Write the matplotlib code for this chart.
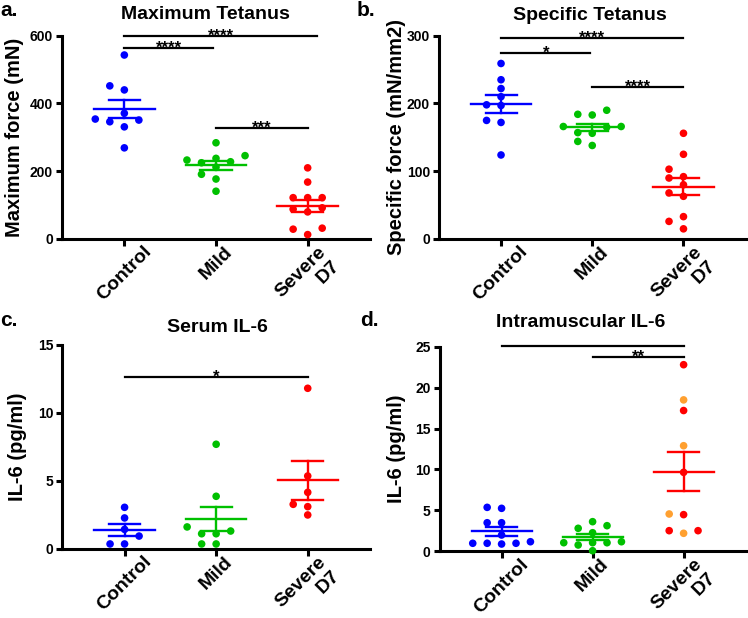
import numpy as np
import matplotlib
matplotlib.use('Agg')
import matplotlib.pyplot as plt

plt.rcParams['font.family'] = ['Liberation Sans', 'DejaVu Sans']
plt.rcParams['font.weight'] = 'bold'

groups = ['Control', 'Mild', 'Severe\nD7']

# a. maximum tetanus (mN)
a_control = [543, 440, 452, 354, 346, 371, 351, 331, 269]
a_mild = [284, 246, 238, 228, 225, 233, 212, 191, 177, 141]
a_severe = [210, 168, 122, 122, 122, 88, 80, 92, 32, 29, 13]

# b. specific tetanus (mN/mm2)
b_control = [259, 235, 222, 210, 198, 197, 175, 172, 124]
b_mild = [190, 183, 184, 166, 165, 157, 156, 138, 144, 166]
b_severe = [156, 125, 103, 90, 92, 80, 68, 63, 33, 26, 15]

# c. serum IL-6 (pg/ml)
c_control = [3.06, 2.28, 1.44, 0.95, 0.37, 0.37]
c_mild = [7.69, 3.87, 1.62, 1.12, 1.12, 1.32, 0.37, 0.37]
c_severe = [11.8, 5.36, 4.16, 3.28, 3.11, 2.50]

# d. intramuscular IL-6 (pg/ml)
d_control = [5.25, 5.37, 3.49, 3.49, 1.99, 0.98, 1.17, 0.98, 0.98, 0.89]
d_mild = [3.13, 3.62, 2.81, 2.27, 0.77, 1.05, 1.05, 1.05, 1.17, 0.07]
d_severe = [22.8, 18.5, 17.2, 12.9, 9.65, 4.56, 4.48, 2.2, 2.52, 2.52]
d_severe_subset = [0, 1, 0, 1, 0, 1, 0, 1, 0, 0]  # 1 = orange points

# significance bars: (from, to, height, stars)
a_sig = [(0, 2.1, 600, '****'), (0, 0.97, 563, '****'), (1, 2, 328, '***')]
b_sig = [(0, 2, 297, '****'), (0, 0.98, 274, '*'), (1, 2, 224, '****')]
c_sig = [(0, 2, 12.65, '*')]
d_sig = [(0, 2, 25.1, '*'), (1, 2, 23.8, '**')]

colors = ['#0000ff', '#00c000', '#ff0000']
orange = '#ffa030'

W, H = 748, 618
fig = plt.figure(figsize=(W / 100, H / 100), dpi=100)


def px_axes(x0, x1, ytop, ybot):
    return fig.add_axes([x0 / W, 1 - ybot / H, (x1 - x0) / W, (ybot - ytop) / H])


def swarm(vals, ppu, s_px=14.5, d_px=8.0, xppu=91.5):
    # column layout: each point goes to the column nearest the centre
    # where it does not overlap a point already placed
    order = np.argsort(vals)
    placed = []
    offs = np.zeros(len(vals))
    for i in order:
        y = vals[i] * ppu
        for k in [0, -1, 1, -2, 2, -3, 3, -4, 4]:
            if all(abs(y - yp) >= d_px for yp, kp in placed if kp == k):
                break
        placed.append((y, k))
        offs[i] = k * s_px / xppu
    return offs


def panel(ax, data, ymax, yticks, sig, ylabel, title, tx, ty, label, lx, ly, ylx, sub=None):
    ax.set_xlim(-0.68, 2.68)
    ax.set_ylim(0, ymax)
    ppu = ax.bbox.height / ymax
    for i, vals in enumerate(data):
        vals = np.array(vals, dtype=float)
        offs = swarm(vals, ppu)
        cols = [colors[i]] * len(vals)
        if sub is not None and i == 2:
            cols = [orange if s else colors[i] for s in sub]
        ax.scatter(i + offs, vals, s=30, c=cols, linewidths=0, zorder=3, clip_on=False)
        m = vals.mean()
        se = vals.std(ddof=1) / np.sqrt(len(vals))
        ax.plot([i - 0.33, i + 0.33], [m, m], color=colors[i], lw=1.7, zorder=4)
        ax.plot([i, i], [m - se, m + se], color=colors[i], lw=1.7, zorder=4)
        for y in (m - se, m + se):
            ax.plot([i - 0.17, i + 0.17], [y, y], color=colors[i], lw=1.7, zorder=4)
    for x0, x1, y, txt in sig:
        ax.plot([x0, x1], [y, y], color='black', lw=1.6, clip_on=False)
        ax.annotate(txt, ((x0 + x1) / 2, y), xytext=(0, -3.5), textcoords='offset points',
                    ha='center', va='baseline', fontsize=12)
    ax.set_yticks(yticks)
    ax.set_xticks([0, 1, 2])
    ax.set_xticklabels(groups, rotation=45, ha='center', va='top',
                       fontsize=14, multialignment='right')
    ax.tick_params(axis='y', labelsize=10, width=2.2, length=4.5, pad=2)
    ax.tick_params(axis='x', width=2.2, length=5, pad=-2)
    for side in ('top', 'right'):
        ax.spines[side].set_visible(False)
    for side in ('left', 'bottom'):
        ax.spines[side].set_linewidth(2.2)
    pos = ax.get_position()
    fig.text(ylx / W, (pos.y0 + pos.y1) / 2, ylabel, rotation=90, ha='center', va='center',
             fontsize=14.5)
    fig.text(tx / W, 1 - ty / H, title, ha='center', va='center', fontsize=14)
    fig.text(lx / W, 1 - ly / H, label, ha='left', va='center', fontsize=15)


ax_a = px_axes(62, 370, 35.7, 239)
ax_b = px_axes(439, 745.5, 35.7, 239)
ax_c = px_axes(62.3, 370, 344.7, 549)
ax_d = px_axes(439.7, 745.5, 346.7, 551.3)

panel(ax_a, [a_control, a_mild, a_severe], 600, [0, 200, 400, 600], a_sig,
      'Maximum force (mN)', 'Maximum Tetanus', 205, 14.5, 'a.', 0, 11, 15)
panel(ax_b, [b_control, b_mild, b_severe], 300, [0, 100, 200, 300], b_sig,
      'Specific force (mN/mm2)', 'Specific Tetanus', 590, 15.5, 'b.', 357, 11, 397)
panel(ax_c, [c_control, c_mild, c_severe], 15, [0, 5, 10, 15], c_sig,
      'IL-6 (pg/ml)', 'Serum IL-6', 217, 327, 'c.', 0, 320, 18)
panel(ax_d, [d_control, d_mild, d_severe], 25, [0, 5, 10, 15, 20, 25], d_sig,
      'IL-6 (pg/ml)', 'Intramuscular IL-6', 581, 322.5, 'd.', 360, 320, 396,
      sub=d_severe_subset)

fig.savefig('out.png', dpi=100)
